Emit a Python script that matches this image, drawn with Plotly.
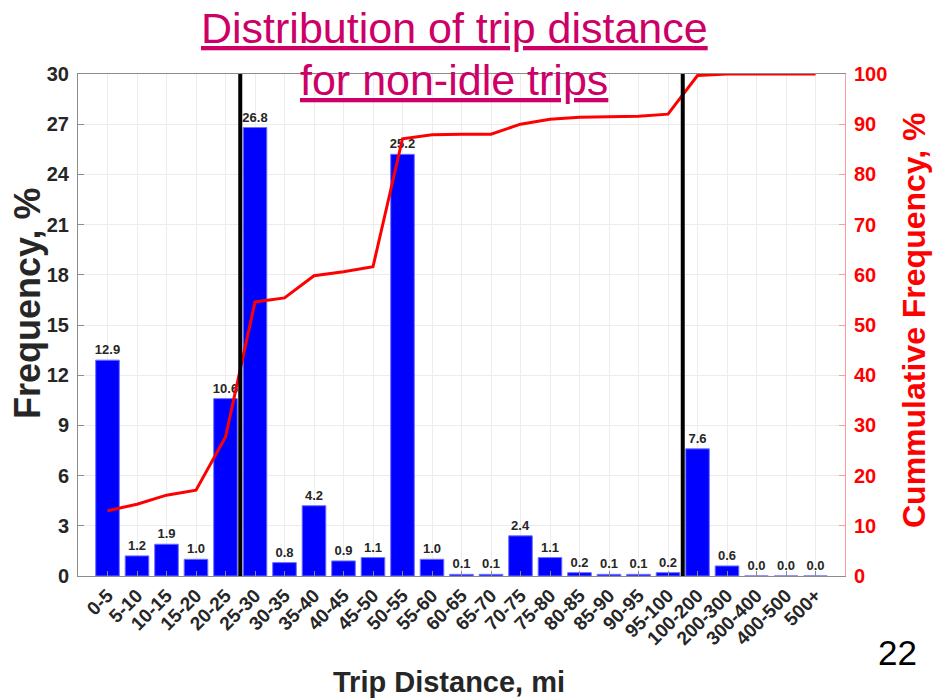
import plotly.graph_objects as go

categories = ["0-5", "5-10", "10-15", "15-20", "20-25", "25-30", "30-35", "35-40",
              "40-45", "45-50", "50-55", "55-60", "60-65", "65-70", "70-75", "75-80",
              "80-85", "85-90", "90-95", "95-100", "100-200", "200-300", "300-400",
              "400-500", "500+"]
frequency = [12.9, 1.2, 1.9, 1.0, 10.6, 26.8, 0.8, 4.2, 0.9, 1.1, 25.2, 1.0, 0.1,
             0.1, 2.4, 1.1, 0.2, 0.1, 0.1, 0.2, 7.6, 0.6, 0.0, 0.0, 0.0]
cumulative = [13.0, 14.3, 16.1, 17.1, 27.7, 54.6, 55.4, 59.8, 60.6, 61.6, 87.1,
              87.9, 88.0, 88.0, 90.0, 91.0, 91.4, 91.5, 91.6, 92.0, 99.7, 100.0,
              100.0, 100.0, 100.0]
divider_positions = [4.5, 19.5]
left_ticks = [0, 3, 6, 9, 12, 15, 18, 21, 24, 27, 30]
right_ticks = [0, 10, 20, 30, 40, 50, 60, 70, 80, 90, 100]

FONT = "Arial, Liberation Sans, sans-serif"
W, H = 935, 698
ML, MR, MT, MB = 78, 90, 74, 122
PW, PH = W - ML - MR, H - MT - MB


def px_x(px):
    return (px - ML) / PW


def px_y(py):
    return (H - MB - py) / PH


xidx = list(range(len(categories)))

fig = go.Figure()
fig.add_trace(go.Bar(
    x=xidx, y=frequency, width=0.8,
    marker=dict(color="#0000ff", line=dict(color="#7070ff", width=1)),
    text=[f"{v:.1f}" for v in frequency], textposition="outside",
    textfont=dict(family=FONT, size=13, color="#262626", weight="bold"),
    cliponaxis=False, constraintext="none", showlegend=False,
))
fig.add_trace(go.Scatter(
    x=xidx, y=cumulative, yaxis="y2", mode="lines",
    line=dict(color="#ff0000", width=3), showlegend=False,
))

for xv in divider_positions:
    fig.add_shape(type="line", x0=xv, x1=xv, xref="x", y0=0, y1=1, yref="paper",
                  line=dict(color="black", width=4), layer="above")

fig.update_layout(
    width=W, height=H,
    margin=dict(l=ML, r=MR, t=MT, b=MB),
    paper_bgcolor="white", plot_bgcolor="white",
    font=dict(family=FONT),
    bargap=0.2,
    xaxis=dict(
        range=[-1, 25], tickmode="array", tickvals=xidx, ticktext=categories,
        tickangle=-45, tickfont=dict(family=FONT, size=19, color="#262626", weight="bold"),
        showgrid=True, gridcolor="#ececec", gridwidth=1,
        showline=True, linecolor="#8c8c8c", linewidth=1, mirror=True,
        ticks="inside", ticklen=5, tickcolor="#8c8c8c", zeroline=False,
    ),
    yaxis=dict(
        range=[0, 30], tickvals=left_ticks,
        tickfont=dict(family=FONT, size=20, color="#262626", weight="bold"),
        showgrid=True, gridcolor="#ececec", gridwidth=1,
        showline=True, linecolor="#8c8c8c", linewidth=1,
        ticks="inside", ticklen=6, tickcolor="#8c8c8c", zeroline=False,
        ticklabelstandoff=4,
    ),
    yaxis2=dict(
        range=[0, 100], tickvals=right_ticks, overlaying="y", side="right",
        tickfont=dict(family=FONT, size=20, color="#ff0000", weight="bold"),
        showgrid=False, showline=True, linecolor="#ff9a9a", linewidth=1,
        ticks="inside", ticklen=6, tickcolor="#ff9a9a", zeroline=False,
        ticklabelstandoff=4,
    ),
)

annotations = [
    dict(text="<u>Distribution of trip distance</u>", x=px_x(454), y=px_y(28),
         font=dict(family=FONT, size=43, color="#cc0066")),
    dict(text="<u>for non-idle trips</u>", x=px_x(454), y=px_y(80),
         font=dict(family=FONT, size=43, color="#cc0066")),
    dict(text="Frequency, %", x=px_x(27), y=px_y(304), textangle=-90,
         font=dict(family=FONT, size=36, color="#262626", weight="bold")),
    dict(text="Cummulative Frequency, %", x=px_x(914), y=px_y(320), textangle=-90,
         font=dict(family=FONT, size=32, color="#ff0000", weight="bold")),
    dict(text="Trip Distance, mi", x=px_x(449), y=px_y(682),
         font=dict(family=FONT, size=29, color="#262626", weight="bold")),
    dict(text="22", x=px_x(897), y=px_y(652),
         font=dict(family=FONT, size=35, color="black")),
]
for a in annotations:
    fig.add_annotation(xref="paper", yref="paper", showarrow=False,
                       xanchor="center", yanchor="middle", **a)

fig.write_html("out.html",
               config={"displayModeBar": False},
               post_script="document.body.style.margin='0';"
                           "document.body.style.overflow='hidden';")
